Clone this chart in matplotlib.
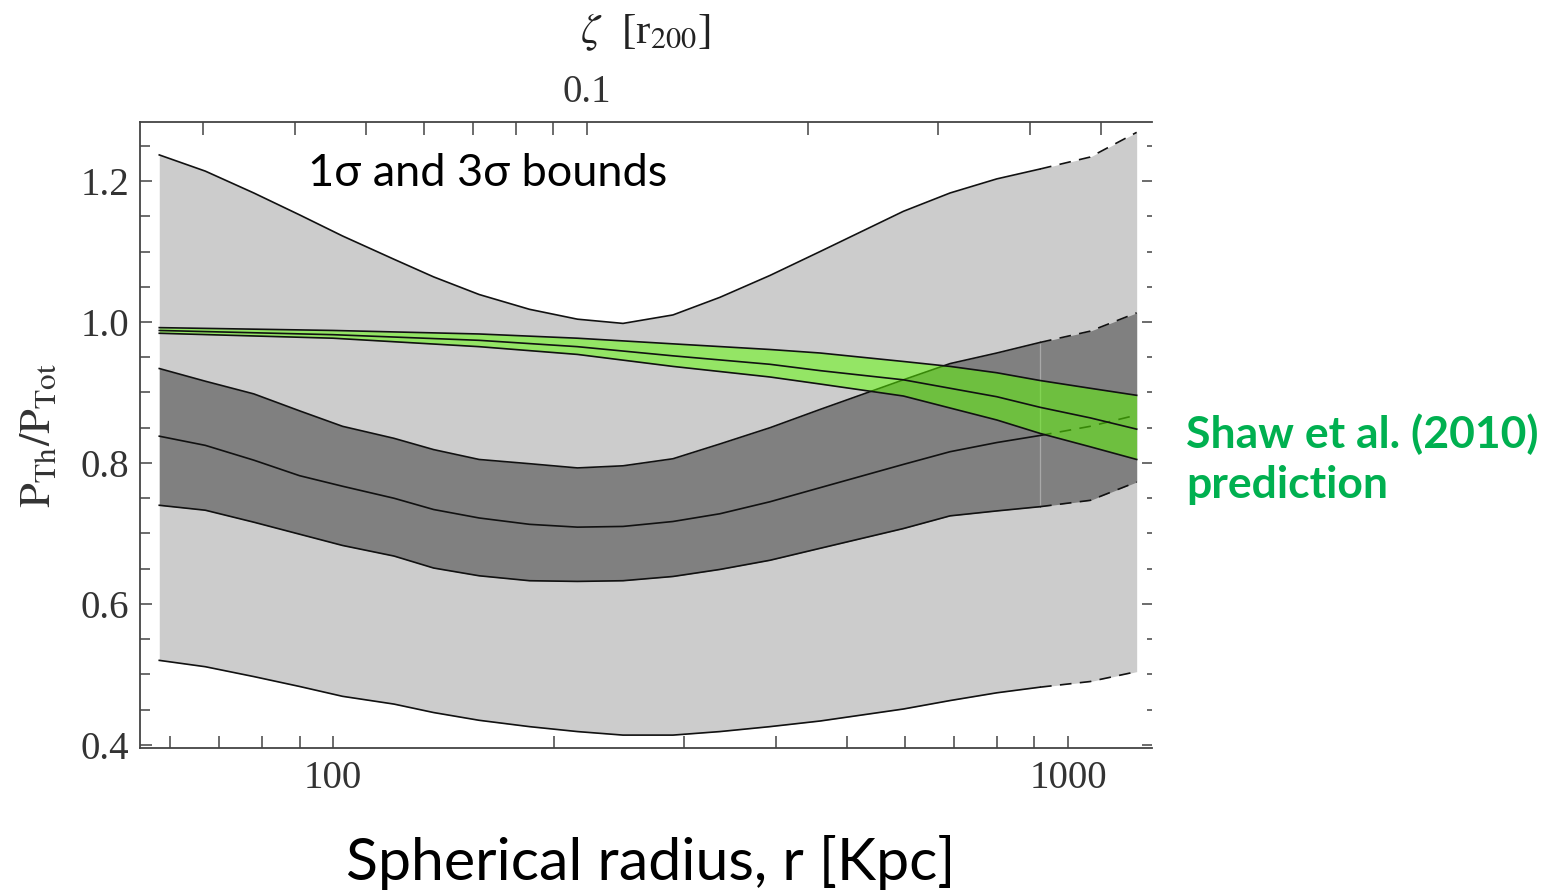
import numpy as np
import matplotlib
matplotlib.use('Agg')
import matplotlib.pyplot as plt
from matplotlib.ticker import FixedLocator, FixedFormatter, NullFormatter

plt.rcParams['mathtext.fontset'] = 'stix'

# radius grid [kpc] for the pressure-ratio bounds
r_kpc = [58, 67, 78, 90, 103, 121, 137, 158, 185, 215, 248, 290, 336, 393,
         460, 597, 691, 800, 916, 1072, 1240]
upper_3sig = [1.237, 1.214, 1.183, 1.152, 1.122, 1.089, 1.064, 1.039, 1.018, 1.004, 0.998,
              1.010, 1.035, 1.066, 1.100, 1.157, 1.183, 1.203, 1.217, 1.234, 1.269]
upper_1sig = [0.934, 0.916, 0.898, 0.874, 0.852, 0.835, 0.819, 0.805, 0.799, 0.793, 0.796,
              0.806, 0.827, 0.850, 0.876, 0.918, 0.941, 0.956, 0.971, 0.987, 1.013]
median = [0.838, 0.825, 0.804, 0.782, 0.767, 0.750, 0.734, 0.722, 0.713, 0.709, 0.710,
          0.717, 0.728, 0.745, 0.765, 0.798, 0.816, 0.829, 0.839, 0.852, 0.868]
lower_1sig = [0.740, 0.733, 0.716, 0.699, 0.683, 0.668, 0.651, 0.640, 0.633, 0.632, 0.633,
              0.639, 0.649, 0.662, 0.679, 0.707, 0.725, 0.732, 0.738, 0.747, 0.773]
lower_3sig = [0.520, 0.511, 0.497, 0.483, 0.469, 0.458, 0.446, 0.435, 0.426, 0.419, 0.414,
              0.414, 0.419, 0.426, 0.434, 0.451, 0.463, 0.474, 0.482, 0.490, 0.504]
r_dashed_from = 916  # bounds are extrapolated beyond this radius

# Shaw et al. (2010) prediction
r_shaw = [58, 100, 158, 215, 290, 393, 460, 597, 691, 800, 916, 1072, 1240]
shaw_upper = [0.992, 0.988, 0.983, 0.977, 0.969, 0.961, 0.956, 0.944, 0.937, 0.928, 0.917, 0.906, 0.896]
shaw_mid = [0.988, 0.982, 0.974, 0.965, 0.952, 0.940, 0.931, 0.918, 0.906, 0.894, 0.879, 0.864, 0.848]
shaw_lower = [0.984, 0.977, 0.965, 0.954, 0.937, 0.922, 0.912, 0.895, 0.878, 0.861, 0.842, 0.823, 0.805]

R200_KPC = 2216  # conversion for the top axis
x_ticks_major = [100, 1000]
x_ticks_minor = [60, 70, 80, 90, 200, 300, 400, 500, 600, 700, 800, 900]
y_ticks_major = [0.4, 0.6, 0.8, 1.0, 1.2]
y_tick_labels = ['0.4', '0.6', '0.8', '1.0', '1.2']
y_ticks_minor = [0.45, 0.5, 0.55, 0.65, 0.7, 0.75, 0.85, 0.9, 0.95, 1.05, 1.1, 1.15, 1.25]
zeta_ticks_major = [0.1]
zeta_ticks_minor = [0.03, 0.04, 0.05, 0.06, 0.07, 0.08, 0.09, 0.2, 0.3, 0.4, 0.5]

XLIM = (54.6, 1301)
YLIM = (0.3957, 1.2837)

W, H = 1552, 892
fig = plt.figure(figsize=(W / 100, H / 100), dpi=100)
ax = fig.add_axes([140 / W, 1 - 748 / H, 1012 / W, 626 / H])

r = np.array(r_kpc, dtype=float)
ax.fill_between(r, lower_3sig, upper_3sig, color='#cccccc', lw=0, zorder=1)
ax.fill_between(r, lower_1sig, upper_1sig, color='#808080', lw=0, zorder=2)

# faint seam in the dark band where the extrapolation starts
i_seam = r_kpc.index(r_dashed_from)
ax.vlines(r_dashed_from, lower_1sig[i_seam], upper_1sig[i_seam], color='#a8a8a8', lw=0.9, zorder=2.5)

solid = r <= r_dashed_from
dashed = r >= r_dashed_from
for curve in [upper_3sig, upper_1sig, median, lower_1sig, lower_3sig]:
    c = np.array(curve)
    ax.plot(r[solid], c[solid], color='#111111', lw=1.2, zorder=3)
    ax.plot(r[dashed], c[dashed], color='#111111', lw=1.2, ls=(0, (7, 5)), zorder=3)

rs = np.array(r_shaw, dtype=float)
ax.fill_between(rs, shaw_lower, shaw_upper, color='#5eff00', alpha=0.5, lw=0, zorder=4)
for curve in [shaw_upper, shaw_mid, shaw_lower]:
    ax.plot(rs, curve, color='#111111', lw=1.2, zorder=5)

ax.set_xscale('log')
ax.set_xlim(*XLIM)
ax.set_ylim(*YLIM)

tick_font = {'family': 'Liberation Serif', 'size': 28}
ax.xaxis.set_major_locator(FixedLocator(x_ticks_major))
ax.xaxis.set_major_formatter(FixedFormatter(['100', '1000']))
ax.xaxis.set_minor_locator(FixedLocator(x_ticks_minor))
ax.xaxis.set_minor_formatter(NullFormatter())
ax.yaxis.set_major_locator(FixedLocator(y_ticks_major))
ax.yaxis.set_major_formatter(FixedFormatter(y_tick_labels))
ax.yaxis.set_minor_locator(FixedLocator(y_ticks_minor))
for lab in ax.get_xticklabels() + ax.get_yticklabels():
    lab.set_fontfamily(tick_font['family'])
    lab.set_fontsize(tick_font['size'])

spine_col = '#444444'
ax.tick_params(axis='x', which='both', direction='in', length=9, width=1.1, color=spine_col,
               labelcolor='#333333', pad=9, top=False)
ax.tick_params(axis='y', which='major', direction='in', length=8.5, width=1.1, color=spine_col,
               labelcolor='#333333', pad=8, right=False)
ax.tick_params(axis='y', which='minor', direction='in', length=7, width=1.1, color=spine_col, right=False)
for side in ['left', 'bottom', 'top']:
    ax.spines[side].set_color(spine_col)
    ax.spines[side].set_linewidth(1.3)
ax.spines['right'].set_visible(False)

# right side ticks (shorter minors, no spine)
axr = ax.twinx()
axr.set_ylim(*YLIM)
axr.yaxis.set_major_locator(FixedLocator(y_ticks_major))
axr.yaxis.set_minor_locator(FixedLocator(y_ticks_minor))
axr.tick_params(axis='y', which='major', direction='in', length=7.5, width=1.1, color=spine_col, labelright=False)
axr.tick_params(axis='y', which='minor', direction='in', length=3.5, width=1.1, color=spine_col)
for s in axr.spines.values():
    s.set_visible(False)

# top axis in units of r200
axt = ax.twiny()
axt.set_xscale('log')
axt.set_xlim(XLIM[0] / R200_KPC, XLIM[1] / R200_KPC)
axt.xaxis.set_major_locator(FixedLocator(zeta_ticks_major))
axt.xaxis.set_major_formatter(FixedFormatter(['0.1']))
axt.xaxis.set_minor_locator(FixedLocator(zeta_ticks_minor))
axt.xaxis.set_minor_formatter(NullFormatter())
axt.tick_params(axis='x', which='both', direction='in', length=9, width=1.1, color=spine_col,
                labelcolor='#333333', pad=8)
for lab in axt.get_xticklabels():
    lab.set_fontfamily(tick_font['family'])
    lab.set_fontsize(tick_font['size'])
for s in axt.spines.values():
    s.set_visible(False)

# texts
fig.text(37 / W, 1 - 435 / H, r'$\mathrm{P_{Th}/P_{Tot}}$', rotation=90, ha='center', va='center',
         fontsize=32, color='#333333')
fig.text(645 / W, 1 - 32 / H, r'$\zeta$  [r$_{200}$]', ha='center', va='center',
         fontsize=31, color='#222222', family='Liberation Serif')
fig.text(488 / W, 1 - 173 / H, '1σ and 3σ bounds', ha='center', va='center',
         fontsize=32.5, color='black', family=['Lato', 'DejaVu Sans'])
fig.text(651 / W, 1 - 862 / H, 'Spherical radius, r [Kpc]', ha='center', va='center',
         fontsize=42.5, color='black', family=['Lato', 'DejaVu Sans'])
fig.text(1186 / W, 1 - 459 / H, 'Shaw et al. (2010)\nprediction', ha='left', va='center',
         fontsize=32, fontweight='bold', color='#00b050', family=['Lato', 'DejaVu Sans'],
         linespacing=1.32)

fig.savefig('out.png', dpi=100)
